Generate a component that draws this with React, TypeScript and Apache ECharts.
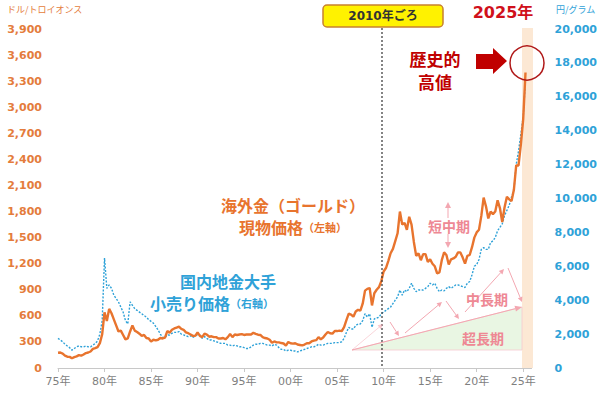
import React, { useEffect, useRef } from "react";
import * as echarts from "echarts";

// Time base: quarterly samples starting 1975.0
const START_YEAR = 1975;
const SAMPLES_PER_YEAR = 4;

// 海外金 現物価格 (USD / troy ounce), quarterly
const goldUsd = [
  175, 178, 166, 142, 130, 128, 112, 125, 134, 148, 142, 155, 172, 178, 190, 220, 228, 240, 285, 390,
  640, 540, 680, 630, 560, 490, 420, 430, 380, 330, 340, 420, 490, 430, 415, 395, 370, 380, 345, 340,
  303, 325, 317, 325, 345, 340, 350, 425, 405, 440, 455, 465, 475, 450, 440, 410, 400, 385, 370, 370,
  410, 370, 355, 395, 385, 360, 365, 355, 355, 340, 340, 345, 330, 355, 390, 355, 385, 380, 385, 390,
  380, 385, 385, 385, 405, 393, 383, 380, 355, 345, 340, 325, 290, 305, 295, 295, 287, 282, 258, 300,
  285, 280, 285, 270, 265, 260, 270, 285, 285, 305, 315, 320, 355, 330, 350, 385, 415, 400, 395, 425,
  425, 430, 425, 470, 550, 625, 615, 590, 650, 670, 660, 740, 890, 910, 920, 720, 860, 900, 930, 1000,
  1110, 1150, 1230, 1320, 1370, 1460, 1550, 1800, 1650, 1670, 1590, 1740, 1650, 1450, 1290, 1320, 1240, 1310, 1310, 1220,
  1250, 1200, 1170, 1090, 1100, 1240, 1330, 1300, 1190, 1250, 1260, 1280, 1330, 1330, 1270, 1200, 1290, 1300, 1390, 1500,
  1560, 1590, 1750, 1960, 1860, 1720, 1800, 1770, 1800, 1930, 1840, 1680, 1850, 1970, 1940, 1920, 2050, 2330, 2330, 2570,
  2860, 3400,
];

// 国内地金大手 小売り価格 (JPY / gram), quarterly
const retailJpy = [
  1750, 1650, 1550, 1400, 1300, 1200, 1050, 1150, 1250, 1300, 1250, 1250, 1300, 1250, 1250, 1350, 1450, 1600, 2000, 2800,
  6490, 4700, 4900, 4700, 4300, 4100, 3900, 3600, 3300, 2800, 2600, 3900, 3700, 3500, 3400, 3300, 3200, 3100, 3000, 2850,
  2750, 2650, 2450, 2250, 2000, 1800, 1800, 1950, 1950, 2050, 2100, 2100, 2150, 2000, 1950, 1900, 1850, 1900, 1800, 1900,
  1950, 1950, 1750, 1850, 1750, 1650, 1650, 1600, 1550, 1500, 1450, 1450, 1450, 1350, 1350, 1300, 1350, 1300, 1250, 1250,
  1200, 1150, 1150, 1250, 1350, 1400, 1400, 1450, 1450, 1400, 1350, 1350, 1300, 1400, 1350, 1200, 1100, 1100, 1000, 1050,
  1050, 1000, 1000, 950, 1000, 1050, 1100, 1150, 1200, 1250, 1250, 1300, 1400, 1350, 1350, 1400, 1450, 1450, 1450, 1500,
  1500, 1500, 1550, 1750, 2100, 2400, 2300, 2300, 2500, 2600, 2600, 2800, 3200, 3000, 3200, 2400, 2900, 2950, 3000, 3200,
  3300, 3400, 3500, 3600, 3800, 4000, 4200, 4600, 4300, 4600, 4500, 4700, 5000, 4700, 4500, 4600, 4600, 4600, 4700, 4800,
  5000, 4900, 5000, 4700, 4500, 4600, 4550, 4700, 4800, 4700, 4800, 4900, 4900, 4850, 4800, 4750, 5000, 5100, 5500, 6000,
  6100, 6400, 7000, 7100, 7000, 7000, 7400, 7500, 7700, 8100, 8300, 8500, 9000, 9300, 9600, 10100, 10500, 12000, 12800, 13800,
  14800, 17000,
];

const xTickYears = [1975, 1980, 1985, 1990, 1995, 2000, 2005, 2010, 2015, 2020, 2025];

const ORANGE = "#E8742E";
const BLUE = "#2FA2D8";
const PINK = "#EE8894";
const PINK_LINE = "#F3A7B1";
const RED = "#C00000";

function arrow(x1: number, y1: number, x2: number, y2: number, color: string, lw = 1, head = 6, hw = 3, z = 20, opacity = 1) {
  const ang = Math.atan2(y2 - y1, x2 - x1);
  const c = Math.cos(ang), s = Math.sin(ang);
  const hx = x2 - head * c, hy = y2 - head * s;
  return [
    { type: "line", z, shape: { x1, y1, x2: hx, y2: hy }, style: { stroke: color, lineWidth: lw, opacity } },
    {
      type: "polygon",
      z,
      shape: { points: [[x2, y2], [hx + hw * s, hy - hw * c], [hx - hw * s, hy + hw * c]] },
      style: { fill: color, opacity },
    },
  ];
}

export default function App() {
  const ref = useRef<HTMLDivElement>(null);
  useEffect(() => {
    if (!ref.current) return;
    const chart = echarts.init(ref.current, null, { renderer: "svg" });
    const toPairs = (arr: number[]) => arr.map((v, i) => [START_YEAR + i / SAMPLES_PER_YEAR, v]);
    const numFont = "'DejaVu Sans', 'Noto Sans CJK JP', sans-serif";
    const jpFont = "'Noto Sans CJK JP', sans-serif";

    const graphics: any[] = [
      // 2025 highlight band
      { type: "rect", z: 0, shape: { x: 522, y: 28, width: 11, height: 340 }, style: { fill: "#FCE5CF", opacity: 0.9 } },
      // long-term triangle
      {
        type: "polygon",
        z: 1,
        shape: { points: [[352, 350], [522, 350], [522, 307]] },
        style: { fill: "#E9F6E3", stroke: "#F6C9CF", lineWidth: 0.8 },
      },
      ...arrow(352, 350, 522, 307, PINK_LINE, 1, 7, 3),
      // 2010 dotted line
      { type: "line", z: 15, shape: { x1: 382, y1: 28, x2: 382, y2: 368 }, style: { stroke: "#333", lineWidth: 1.2, lineDash: [2, 2] } },
      // 2010 box
      {
        type: "rect",
        z: 20,
        shape: { x: 323, y: 5, width: 120, height: 22, r: 4 },
        style: { fill: "#FFF200", stroke: "#C8812F", lineWidth: 1.5 },
      },
      {
        type: "text",
        z: 21,
        x: 383,
        y: 16,
        style: { text: "2010年ごろ", fill: "#333", font: `bold 12px ${numFont}`, align: "center", verticalAlign: "middle" },
      },
      // 2025年
      {
        type: "text",
        z: 21,
        x: 503,
        y: 12,
        style: { text: "2025年", fill: "#D0101B", font: `bold 16px ${numFont}`, align: "center", verticalAlign: "middle" },
      },
      // circle
      { type: "circle", z: 22, shape: { cx: 527, cy: 63, r: 17 }, style: { fill: "none", stroke: "#B01818", lineWidth: 1.5 } },
      // big arrow
      {
        type: "polygon",
        z: 21,
        shape: { points: [[476, 54], [493, 54], [493, 48], [507, 61], [493, 74], [493, 69], [476, 69]] },
        style: { fill: RED },
      },
      {
        type: "text",
        z: 21,
        x: 435,
        y: 70,
        style: {
          text: "歴史的\n高値",
          fill: RED,
          font: `bold 17px ${jpFont}`,
          align: "center",
          verticalAlign: "middle",
          lineHeight: 23,
        },
      },
      // axis units
      { type: "text", z: 21, x: 7, y: 9, style: { text: "ドル/トロイオンス", fill: "#E47C3C", font: `9px ${jpFont}`, verticalAlign: "middle" } },
      { type: "text", z: 21, x: 556, y: 9, style: { text: "円/グラム", fill: BLUE, font: `9px ${jpFont}`, verticalAlign: "middle" } },
      // series labels
      {
        type: "text",
        z: 21,
        x: 293,
        y: 216,
        style: {
          text: "{a|海外金（ゴールド）}\n{a|現物価格}{b|（左軸）}",
          align: "center",
          verticalAlign: "middle",
          rich: {
            a: { fill: ORANGE, font: `bold 16px ${jpFont}`, lineHeight: 22 },
            b: { fill: ORANGE, font: `bold 11px ${jpFont}`, lineHeight: 22 },
          },
        },
      },
      {
        type: "text",
        z: 21,
        x: 212,
        y: 292,
        style: {
          text: "{a|　　国内地金大手}\n{a|小売り価格}{b|（右軸）}",
          align: "center",
          verticalAlign: "middle",
          rich: {
            a: { fill: BLUE, font: `bold 16px ${jpFont}`, lineHeight: 22 },
            b: { fill: BLUE, font: `bold 11px ${jpFont}`, lineHeight: 22 },
          },
        },
      },
      // short/mid term
      ...arrow(448, 218, 448, 202, PINK_LINE, 1, 6, 3),
      ...arrow(448, 234, 448, 248, PINK_LINE, 1, 6, 3),
      { type: "text", z: 21, x: 449, y: 226, style: { text: "短中期", fill: PINK, font: `bold 14px ${jpFont}`, align: "center", verticalAlign: "middle" } },
      // mid-long zigzag
      ...arrow(352, 350, 383, 324, PINK_LINE, 0.8, 5, 2.5, 20, 0.6),
      ...arrow(390, 322, 399, 336, PINK_LINE, 1, 5, 2.5),
      ...arrow(405, 333, 442, 302, PINK_LINE, 1, 5, 2.5),
      ...arrow(446, 301, 459, 319, PINK_LINE, 1, 5, 2.5),
      ...arrow(465, 312, 504, 269, PINK_LINE, 1, 5, 2.5),
      ...arrow(508, 268, 522, 302, PINK_LINE, 1, 5, 2.5),
      { type: "text", z: 21, x: 487, y: 299, style: { text: "中長期", fill: PINK, font: `bold 14px ${jpFont}`, align: "center", verticalAlign: "middle" } },
      { type: "text", z: 21, x: 483, y: 338, style: { text: "超長期", fill: PINK, font: `bold 14px ${jpFont}`, align: "center", verticalAlign: "middle" } },
    ];

    chart.setOption({
      animation: false,
      backgroundColor: "#ffffff",
      grid: { left: 58, right: 67, top: 29, bottom: 26 },
      xAxis: {
        type: "value",
        min: 1975,
        max: 2025.9,
        splitLine: { show: false },
        axisLine: { show: true, lineStyle: { color: "#C8C8C8", width: 1 } },
        axisTick: { show: true, customValues: xTickYears, length: 4, lineStyle: { color: "#C8C8C8" } },
        axisLabel: {
          customValues: xTickYears,
          formatter: (v: number) => String(Math.round(v) % 100).padStart(2, "0") + "年",
          color: "#7F7F7F",
          fontSize: 11,
          fontFamily: numFont,
          margin: 8,
        },
      },
      yAxis: [
        {
          type: "value",
          min: 0,
          max: 3900,
          interval: 300,
          position: "left",
          splitLine: { show: false },
          axisLine: { show: false },
          axisTick: { show: false },
          axisLabel: {
            color: "#E47C3C",
            fontWeight: "bold",
            fontSize: 11,
            fontFamily: numFont,
            margin: 16,
            formatter: (v: number) => v.toLocaleString("en-US"),
          },
        },
        {
          type: "value",
          min: 0,
          max: 20000,
          interval: 2000,
          position: "right",
          splitLine: { show: false },
          axisLine: { show: false },
          axisTick: { show: false },
          axisLabel: {
            color: BLUE,
            fontWeight: "bold",
            fontSize: 11,
            fontFamily: numFont,
            margin: 23,
            align: "left",
            formatter: (v: number) => v.toLocaleString("en-US"),
          },
        },
      ],
      series: [
        {
          type: "line",
          name: "国内地金大手 小売り価格",
          yAxisIndex: 1,
          data: toPairs(retailJpy),
          showSymbol: false,
          z: 3,
          lineStyle: { color: BLUE, width: 1.4, type: [2, 1.5] },
        },
        {
          type: "line",
          name: "海外金 現物価格",
          yAxisIndex: 0,
          data: toPairs(goldUsd),
          showSymbol: false,
          z: 4,
          lineStyle: { color: ORANGE, width: 2.4 },
        },
      ],
      graphic: graphics,
    });
    return () => chart.dispose();
  }, []);
  return <div ref={ref} style={{ position: "fixed", left: 0, top: 0, width: 600, height: 394 }} />;
}
